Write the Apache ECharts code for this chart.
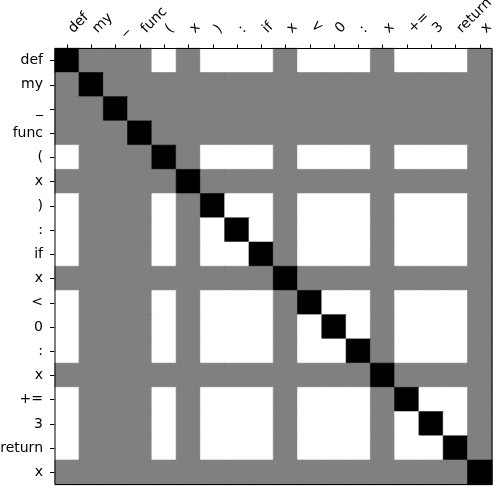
<!DOCTYPE html>
<html>
<head>
<meta charset="utf-8">
<script src="https://cdn.jsdelivr.net/npm/echarts@6/dist/echarts.min.js"></script>
<style>
  html, body { margin: 0; padding: 0; background: #fff; }
  #main { width: 496px; height: 488px; }
</style>
</head>
<body>
<div id="main"></div>
<script>
// tokens along both axes
var tokens = ['def', 'my', '_', 'func', '(', 'x', ')', ':', 'if', 'x', '<', '0', ':', 'x', '+=', '3', 'return', 'x'];

// 0 = white, 1 = gray, 2 = black
var levelColors = ['#ffffff', '#808080', '#000000'];

// one row per token
var r00 = [2,1,1,1,0,1,0,0,0,1,0,0,0,1,0,0,0,1];
var r01 = [1,2,1,1,1,1,1,1,1,1,1,1,1,1,1,1,1,1];
var r02 = [1,1,2,1,1,1,1,1,1,1,1,1,1,1,1,1,1,1];
var r03 = [1,1,1,2,1,1,1,1,1,1,1,1,1,1,1,1,1,1];
var r04 = [0,1,1,1,2,1,0,0,0,1,0,0,0,1,0,0,0,1];
var r05 = [1,1,1,1,1,2,1,1,1,1,1,1,1,1,1,1,1,1];
var r06 = [0,1,1,1,0,1,2,0,0,1,0,0,0,1,0,0,0,1];
var r07 = [0,1,1,1,0,1,0,2,0,1,0,0,0,1,0,0,0,1];
var r08 = [0,1,1,1,0,1,0,0,2,1,0,0,0,1,0,0,0,1];
var r09 = [1,1,1,1,1,1,1,1,1,2,1,1,1,1,1,1,1,1];
var r10 = [0,1,1,1,0,1,0,0,0,1,2,0,0,1,0,0,0,1];
var r11 = [0,1,1,1,0,1,0,0,0,1,0,2,0,1,0,0,0,1];
var r12 = [0,1,1,1,0,1,0,0,0,1,0,0,2,1,0,0,0,1];
var r13 = [1,1,1,1,1,1,1,1,1,1,1,1,1,2,1,1,1,1];
var r14 = [0,1,1,1,0,1,0,0,0,1,0,0,0,1,2,0,0,1];
var r15 = [0,1,1,1,0,1,0,0,0,1,0,0,0,1,0,2,0,1];
var r16 = [0,1,1,1,0,1,0,0,0,1,0,0,0,1,0,0,2,1];
var r17 = [1,1,1,1,1,1,1,1,1,1,1,1,1,1,1,1,1,2];

var rows = [r00, r01, r02, r03, r04, r05, r06, r07, r08, r09, r10, r11, r12, r13, r14, r15, r16, r17];

var data = [];
rows.forEach(function (row, i) {
    row.forEach(function (v, j) {
        var c = levelColors[v];
        // same-colour border hides the seams between cells
        data.push({ value: [j, i, v], itemStyle: { color: c, borderColor: c, borderWidth: 0.6 } });
    });
});

var chart = echarts.init(document.getElementById('main'), null, { renderer: 'canvas' });

var axisFont = { fontFamily: 'DejaVu Sans', fontSize: 14, color: '#000' };

var option = {
    animation: false,
    backgroundColor: '#fff',
    grid: {
        left: 55, top: 48.5, width: 437, height: 436,
        outerBoundsMode: 'none',
        containLabel: false,
        show: true, borderColor: '#000', borderWidth: 1, backgroundColor: 'transparent', z: 10
    },
    xAxis: {
        type: 'category',
        position: 'top',
        data: tokens,
        axisLine: { show: false },
        axisTick: { show: true, alignWithLabel: true, length: 4, lineStyle: { color: '#000' } },
        // padding pushes the rotated text so its box starts at the tick, like matplotlib
        axisLabel: Object.assign({ rotate: -45, interval: 0, margin: 14, padding: [0, 0, 0, 5] }, axisFont),
        splitLine: { show: false }
    },
    yAxis: {
        type: 'category',
        inverse: true,
        data: tokens,
        axisLine: { show: false },
        axisTick: { show: true, alignWithLabel: true, length: 5, lineStyle: { color: '#000' } },
        axisLabel: Object.assign({ interval: 0, margin: 12 }, axisFont),
        splitLine: { show: false }
    },
    series: [{
        type: 'heatmap',
        data: data,
        emphasis: { disabled: true }
    }]
};

chart.setOption(option);
</script>
</body>
</html>
